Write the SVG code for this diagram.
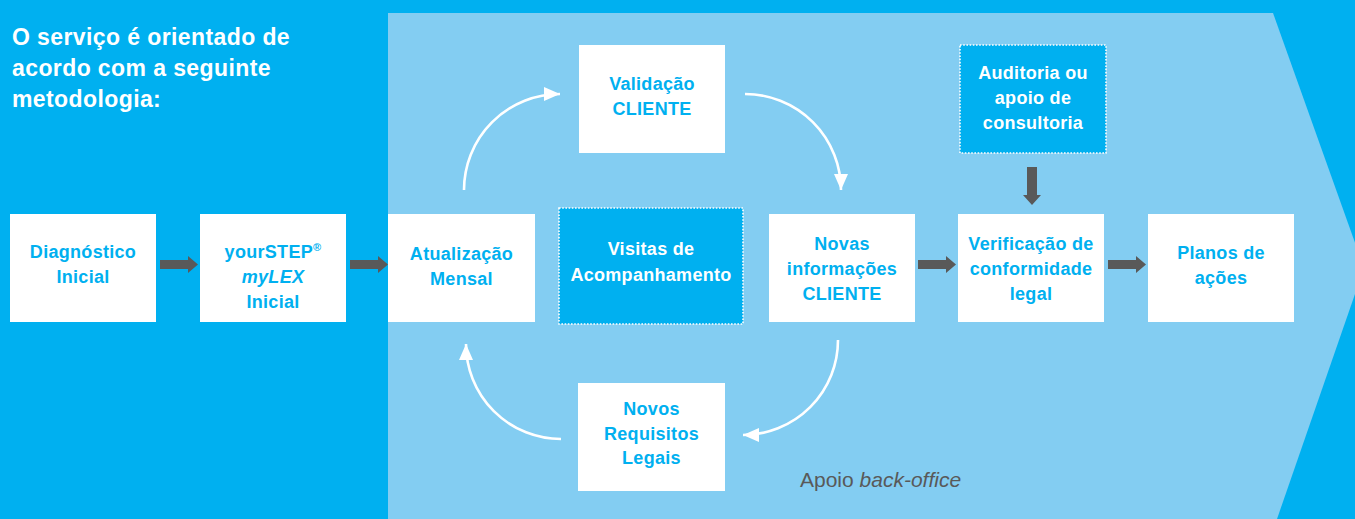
<svg xmlns="http://www.w3.org/2000/svg" width="1355" height="519" viewBox="0 0 1355 519">
<style>
.box{fill:#fff}
.dot{fill:#00B0F0;stroke:#fff;stroke-width:1.6;stroke-dasharray:1.6 1.6}
.t{font-family:"Liberation Sans",Arial,sans-serif;font-weight:bold;font-size:18px;fill:#00B0F0;text-anchor:middle;letter-spacing:0.3px}
.tw{fill:#fff}
.h{font-family:"Liberation Sans",Arial,sans-serif;font-weight:bold;font-size:23px;fill:#fff;letter-spacing:0.4px}
.curve{fill:none;stroke:#fff;stroke-width:2.6}
.blk{fill:#595959}
</style>
<defs>
<marker id="wh" markerUnits="userSpaceOnUse" markerWidth="18" markerHeight="16" refX="16" refY="7" orient="auto" viewBox="0 0 18 16">
<path d="M0,0 L16,7 L0,14 Z" fill="#fff"/>
</marker>
<path id="ba" d="M0,-4.5 H28 V-8.5 L38,0 L28,8.5 V4.5 H0 Z"/>
<path id="bd" d="M0,-5 H28 V-9 L38,0 L28,9 V5 H0 Z"/>
</defs>
<rect width="1355" height="519" fill="#00B0F0"/>
<polygon points="388,13 1273,13 1364,268 1277,519 388,519" fill="#83CDF2"/>

<text class="h"><tspan x="12" y="45">O serviço é orientado de</tspan><tspan x="12" y="76">acordo com a seguinte</tspan><tspan x="12" y="107">metodologia:</tspan></text>

<g id="connectors">
<use href="#ba" class="blk" transform="translate(160,264.5)"/>
<use href="#ba" class="blk" transform="translate(350,264.5)"/>
<use href="#ba" class="blk" transform="translate(918,264.5)"/>
<use href="#ba" class="blk" transform="translate(1108,264.5)"/>
<use href="#bd" class="blk" transform="translate(1032,167) rotate(90)"/>
<path class="curve" d="M464,190 A96,96 0 0 1 560,94" marker-end="url(#wh)"/>
<path class="curve" d="M745,94 A96,96 0 0 1 841,190" marker-end="url(#wh)"/>
<path class="curve" d="M838,340 A95,95 0 0 1 743,435" marker-end="url(#wh)"/>
<path class="curve" d="M561,439 A95,95 0 0 1 466,344" marker-end="url(#wh)"/>
</g>

<g id="n-diagnostico">
<rect class="box" x="10" y="214" width="146" height="108"/>
<text class="t"><tspan x="83" y="258">Diagnóstico</tspan><tspan x="83" y="283">Inicial</tspan></text>
</g>
<g id="n-yourstep">
<rect class="box" x="200" y="214" width="146" height="108"/>
<text class="t"><tspan x="273" y="258">yourSTEP<tspan font-size="11" dy="-7">®</tspan></tspan><tspan x="273" y="283" font-style="italic">myLEX</tspan><tspan x="273" y="308">Inicial</tspan></text>
</g>
<g id="n-atualizacao">
<rect class="box" x="388" y="214" width="147" height="108"/>
<text class="t"><tspan x="461.5" y="260">Atualização</tspan><tspan x="461.5" y="285">Mensal</tspan></text>
</g>
<g id="n-visitas">
<rect class="dot" x="559" y="208" width="184" height="116"/>
<text class="t tw"><tspan x="651" y="255">Visitas de</tspan><tspan x="651" y="281">Acompanhamento</tspan></text>
</g>
<g id="n-validacao">
<rect class="box" x="579" y="45" width="146" height="108"/>
<text class="t"><tspan x="652" y="90">Validação</tspan><tspan x="652" y="115">CLIENTE</tspan></text>
</g>
<g id="n-novas-info">
<rect class="box" x="769" y="214" width="146" height="108"/>
<text class="t"><tspan x="842" y="250">Novas</tspan><tspan x="842" y="275">informações</tspan><tspan x="842" y="300">CLIENTE</tspan></text>
</g>
<g id="n-auditoria">
<rect class="dot" x="960" y="45" width="146" height="108"/>
<text class="t tw"><tspan x="1033" y="79">Auditoria ou</tspan><tspan x="1033" y="104">apoio de</tspan><tspan x="1033" y="129">consultoria</tspan></text>
</g>
<g id="n-verificacao">
<rect class="box" x="958" y="214" width="146" height="108"/>
<text class="t"><tspan x="1031" y="250">Verificação de</tspan><tspan x="1031" y="275">conformidade</tspan><tspan x="1031" y="300">legal</tspan></text>
</g>
<g id="n-planos">
<rect class="box" x="1148" y="214" width="146" height="108"/>
<text class="t"><tspan x="1221" y="259">Planos de</tspan><tspan x="1221" y="284">ações</tspan></text>
</g>
<g id="n-novos-req">
<rect class="box" x="578" y="383" width="147" height="108"/>
<text class="t"><tspan x="651.5" y="415">Novos</tspan><tspan x="651.5" y="440">Requisitos</tspan><tspan x="651.5" y="464">Legais</tspan></text>
</g>
<text x="800" y="487" font-family="Liberation Sans, Arial, sans-serif" font-size="21" fill="#595959">Apoio <tspan font-style="italic">back-office</tspan></text>
</svg>
